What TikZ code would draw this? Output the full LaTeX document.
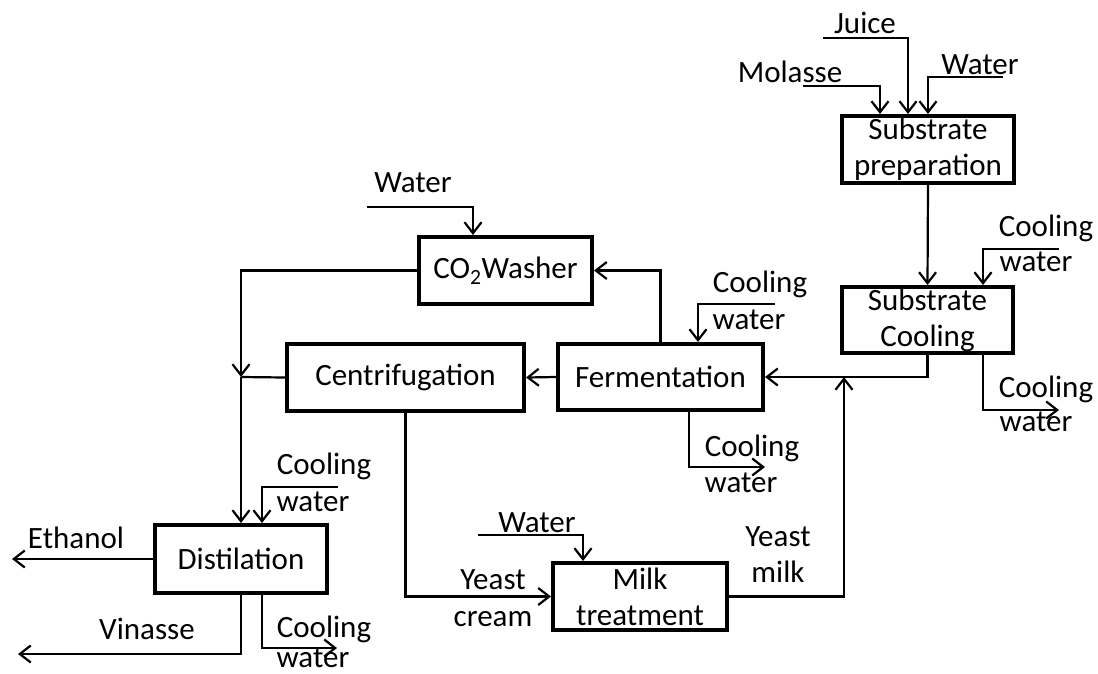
\documentclass[tikz,border=0pt]{standalone}
\usepackage{fontspec}
\setmainfont{Carlito}
\usetikzlibrary{arrows.meta}
\begin{document}
\begin{tikzpicture}[x=1pt,y=-1pt,
  font=\fontsize{31}{36}\selectfont,
  unit/.style={draw, line width=4pt, rectangle, align=center, inner sep=0pt},
  pipe/.style={line width=2.2pt},
  flow/.style={pipe, -{Straight Barb[length=11pt,width=17pt,line width=2.2pt]}},
  lbl/.style={anchor=base, inner sep=0pt}]
\useasboundingbox (0,0) rectangle (1098,673);

% process units
\node[unit, minimum width=172pt, minimum height=67pt] (prep)   at (928,149.5) {Substrate\\preparation};
\node[unit, minimum width=171pt, minimum height=66pt] (cool)   at (927.5,320) {Substrate\\Cooling};
\node[unit, minimum width=205pt, minimum height=66pt] (ferm)   at (660.5,377) {Fermentation};
\node[unit, minimum width=173pt, minimum height=67pt] (washer) at (505.5,270.5) {CO\textsubscript{2}Washer};
\node[unit, minimum width=237pt, minimum height=67pt] (centr)  at (405.5,377.5) {Centrifugation};
\node[unit, minimum width=172pt, minimum height=68pt] (dist)   at (241,559) {Distilation};
\node[unit, minimum width=174pt, minimum height=67pt] (milk)   at (640,596.5) {Milk\\treatment};

% free ends of feeds and products
\coordinate (molIn)   at (803,86);
\coordinate (juiceIn) at (823,38);
\coordinate (watIn)   at (1003,77);
\coordinate (cwIn1)   at (1059,249);
\coordinate (cwOut1)  at (1059,410);
\coordinate (cwIn2)   at (775,304);
\coordinate (cwOut2)  at (765,467);
\coordinate (watIn2)  at (367,207);
\coordinate (cwIn3)   at (338,487);
\coordinate (cwOut3)  at (337,648);
\coordinate (ethOut)  at (12,559);
\coordinate (vinOut)  at (18,654);
\coordinate (watIn3)  at (478,535);
\coordinate (join)    at (844,377);
\coordinate (merge)   at (241,377);

% substrate preparation
\draw[flow] (molIn) -| ([xshift=-48pt]prep.north);
\draw[flow] (juiceIn) -| ([xshift=-20pt]prep.north);
\draw[flow] (watIn) -| (prep.north);
\node[lbl] at (865,33) {Juice};
\node[lbl] at (790,82) {Molasse};
\node[lbl] at (980,74) {Water};

% substrate cooling
\draw[flow] (prep.south) -- (cool.north);
\draw[flow] (cwIn1) -| ([xshift=55.5pt]cool.north);
\draw[flow] ([xshift=55.5pt]cool.south) |- (cwOut1);
\node[lbl] at (1046,236) {Cooling};
\node[lbl] at (1036,271) {water};
\node[lbl] at (1046,397) {Cooling};
\node[lbl] at (1036,431) {water};
\draw[flow] (cool.south) |- (ferm.east);

% fermentation
\draw[flow] (ferm.west) -- (centr.east);
\draw[flow] (ferm.north) |- (washer.east);
\draw[flow] (cwIn2) -| ([xshift=37.5pt]ferm.north);
\draw[flow] ([xshift=28.5pt]ferm.south) |- (cwOut2);
\node[lbl] at (760,292) {Cooling};
\node[lbl] at (749,329) {water};
\node[lbl] at (752,456) {Cooling};
\node[lbl] at (741,492) {water};

% CO2 washer
\draw[flow] (watIn2) -| ([xshift=-32.5pt]washer.north);
\node[lbl] at (413,192) {Water};
\draw[flow] (washer.west) -| (merge);
\draw[pipe] (centr.west) -- (merge);
\draw[flow] (merge) -- (dist.north);

% distillation
\draw[flow] (cwIn3) -| ([xshift=21pt]dist.north);
\node[lbl] at (324,474) {Cooling};
\node[lbl] at (313,511) {water};
\draw[flow] (dist.west) -- (ethOut);
\node[lbl] at (76,548) {Ethanol};
\draw[flow] (dist.south) |- (vinOut);
\node[lbl] at (147,639) {Vinasse};
\draw[flow] ([xshift=21pt]dist.south) |- (cwOut3);
\node[lbl] at (324,637) {Cooling};
\node[lbl] at (313,667) {water};

% milk treatment
\draw[flow] (centr.south) |- (milk.west);
\node[lbl] at (493,589) {Yeast};
\node[lbl] at (493,626) {cream};
\draw[flow] (watIn3) -| ([xshift=-57pt]milk.north);
\node[lbl] at (537,532) {Water};
\draw[flow] (milk.east) -| (join);
\node[lbl] at (778,546) {Yeast};
\node[lbl] at (778,582) {milk};
\end{tikzpicture}
\end{document}
